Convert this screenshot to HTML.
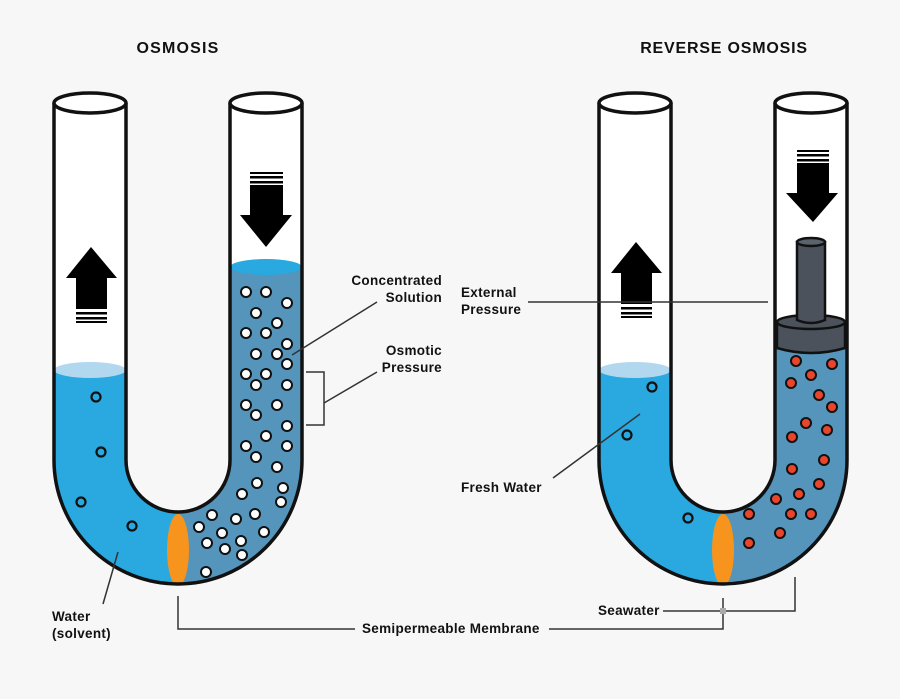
<!DOCTYPE html>
<html><head><meta charset="utf-8"><style>
html,body{margin:0;padding:0;background:#f7f7f7;}
svg{display:block;}
text{font-family:"Liberation Sans",sans-serif;font-weight:bold;fill:#111;}
</style></head><body>
<svg width="900" height="699" viewBox="0 0 900 699" xmlns="http://www.w3.org/2000/svg">
<defs>
<path id="U" d="M54,103 L54,460 A124,124 0 0 0 302,460 L302,103 L230,103 L230,460 A52,52 0 0 1 126,460 L126,103 Z"/>
<clipPath id="cu"><use href="#U"/></clipPath>
</defs>
<rect width="900" height="699" fill="#f7f7f7"/>
<text x="178" y="53" font-size="16" letter-spacing="1.2" text-anchor="middle">OSMOSIS</text>
<text x="724" y="53" font-size="16" letter-spacing="0.8" text-anchor="middle">REVERSE OSMOSIS</text>

<!-- LEFT U -->
<g>
<use href="#U" fill="#fff"/>
<g clip-path="url(#cu)">
<rect x="40" y="370" width="138" height="230" fill="#29a9e0"/>
<rect x="178" y="267" width="140" height="330" fill="#5594bb"/>
<ellipse cx="90" cy="370" rx="36" ry="8" fill="#b2d8f0"/>
<ellipse cx="266" cy="267" rx="36" ry="8" fill="#29a9e0"/>
<ellipse cx="178" cy="550" rx="11" ry="36" fill="#f7941e"/>
</g>
<g fill="none" stroke="#111" stroke-width="3.5">
<path d="M54,103 L54,460 A124,124 0 0 0 302,460 L302,103 M230,103 L230,460 A52,52 0 0 1 126,460 L126,103"/>
<ellipse cx="90" cy="103" rx="36" ry="10" fill="#fff"/>
<ellipse cx="266" cy="103" rx="36" ry="10" fill="#fff"/>
</g>
<g fill="none" stroke="#111" stroke-width="2.2">
<circle cx="96" cy="397" r="4.5"/><circle cx="101" cy="452" r="4.5"/><circle cx="81" cy="502" r="4.5"/><circle cx="132" cy="526" r="4.5"/>
</g>
<g fill="#fff" stroke="#111" stroke-width="2">
<circle cx="246" cy="292" r="5"/><circle cx="266" cy="292" r="5"/><circle cx="287" cy="303" r="5"/><circle cx="256" cy="313" r="5"/><circle cx="277" cy="323" r="5"/><circle cx="246" cy="333" r="5"/><circle cx="266" cy="333" r="5"/><circle cx="287" cy="344" r="5"/><circle cx="256" cy="354" r="5"/><circle cx="277" cy="354" r="5"/><circle cx="287" cy="364" r="5"/><circle cx="246" cy="374" r="5"/><circle cx="266" cy="374" r="5"/><circle cx="256" cy="385" r="5"/><circle cx="287" cy="385" r="5"/><circle cx="246" cy="405" r="5"/><circle cx="277" cy="405" r="5"/><circle cx="256" cy="415" r="5"/><circle cx="287" cy="426" r="5"/><circle cx="266" cy="436" r="5"/><circle cx="246" cy="446" r="5"/><circle cx="287" cy="446" r="5"/><circle cx="256" cy="457" r="5"/><circle cx="277" cy="467" r="5"/><circle cx="257" cy="483" r="5"/><circle cx="242" cy="494" r="5"/><circle cx="283" cy="488" r="5"/><circle cx="281" cy="502" r="5"/><circle cx="212" cy="515" r="5"/><circle cx="236" cy="519" r="5"/><circle cx="255" cy="514" r="5"/><circle cx="199" cy="527" r="5"/><circle cx="222" cy="533" r="5"/><circle cx="264" cy="532" r="5"/><circle cx="207" cy="543" r="5"/><circle cx="241" cy="541" r="5"/><circle cx="225" cy="549" r="5"/><circle cx="242" cy="555" r="5"/><circle cx="206" cy="572" r="5"/>
</g>
<g fill="#000">
<polygon points="91,247 117,278 107,278 107,309 76,309 76,278 66,278"/>
<rect x="76" y="312" width="31" height="2.5"/><rect x="76" y="317" width="31" height="2.5"/><rect x="76" y="321" width="31" height="2"/>
<rect x="250" y="172" width="33" height="2"/><rect x="250" y="176" width="33" height="2.5"/><rect x="250" y="181" width="33" height="2.5"/>
<polygon points="250,185 283,185 283,215 292,215 266,247 240,215 250,215"/>
</g>
</g>

<!-- RIGHT U -->
<g transform="translate(545,0)">
<use href="#U" fill="#fff"/>
<g clip-path="url(#cu)">
<rect x="40" y="370" width="138" height="230" fill="#29a9e0"/>
<rect x="178" y="345" width="140" height="260" fill="#5594bb"/>
<ellipse cx="90" cy="370" rx="36" ry="8" fill="#b2d8f0"/>
<ellipse cx="178" cy="550" rx="11" ry="36" fill="#f7941e"/>
</g>
<g fill="none" stroke="#111" stroke-width="3.5">
<path d="M54,103 L54,460 A124,124 0 0 0 302,460 L302,103 M230,103 L230,460 A52,52 0 0 1 126,460 L126,103"/>
<ellipse cx="90" cy="103" rx="36" ry="10" fill="#fff"/>
<ellipse cx="266" cy="103" rx="36" ry="10" fill="#fff"/>
</g>
<g stroke="#111" stroke-width="2.5" fill="#4b525b">
<path d="M232,322 L300,322 L300,348 Q266,358 232,348 Z"/>
<ellipse cx="266" cy="322" rx="34" ry="7"/>
<path d="M252,242 L252,320 Q266,326 280,320 L280,242 Z"/>
<ellipse cx="266" cy="242" rx="14" ry="4" fill="#5b636c"/>
</g>
<g fill="none" stroke="#111" stroke-width="2.2">
<circle cx="107" cy="387" r="4.5"/><circle cx="82" cy="435" r="4.5"/><circle cx="143" cy="518" r="4.5"/>
</g>
<g fill="#e8452c" stroke="#111" stroke-width="2" transform="translate(-545,0)">
<circle cx="796" cy="361" r="5"/><circle cx="832" cy="364" r="5"/><circle cx="811" cy="375" r="5"/><circle cx="791" cy="383" r="5"/><circle cx="819" cy="395" r="5"/><circle cx="832" cy="407" r="5"/><circle cx="806" cy="423" r="5"/><circle cx="827" cy="430" r="5"/><circle cx="792" cy="437" r="5"/><circle cx="824" cy="460" r="5"/><circle cx="792" cy="469" r="5"/><circle cx="819" cy="484" r="5"/><circle cx="799" cy="494" r="5"/><circle cx="776" cy="499" r="5"/><circle cx="791" cy="514" r="5"/><circle cx="811" cy="514" r="5"/><circle cx="749" cy="514" r="5"/><circle cx="780" cy="533" r="5"/><circle cx="749" cy="543" r="5"/>
</g>
<g fill="#000">
<polygon points="91,242 117,273 107,273 107,304 76,304 76,273 66,273"/>
<rect x="76" y="307" width="31" height="2.5"/><rect x="76" y="312" width="31" height="2.5"/><rect x="76" y="316" width="31" height="2"/>
<rect x="252" y="150" width="32" height="2"/><rect x="252" y="154" width="32" height="2.5"/><rect x="252" y="159" width="32" height="2.5"/>
<polygon points="252,163 284,163 284,193 293,193 268,222 241,193 252,193"/>
</g>
</g>

<g stroke="#333" stroke-width="1.5" fill="none">
<line x1="377" y1="302" x2="292" y2="355"/>
<polyline points="306,372 324,372 324,425 306,425"/>
<line x1="324" y1="403" x2="377" y2="372"/>
<line x1="528" y1="302" x2="768" y2="302"/>
<line x1="553" y1="478" x2="640" y2="414"/>
<line x1="103" y1="604" x2="118" y2="552"/>
<polyline points="178,596 178,629 355,629"/>
<polyline points="549,629 723,629 723,598"/>
<polyline points="663,611 795,611 795,577"/>
</g>
<rect x="720" y="608" width="6" height="6" fill="#aaa"/>
<g font-size="13.5" letter-spacing="0.3">
<text x="442" y="285" text-anchor="end">Concentrated</text>
<text x="442" y="302" text-anchor="end">Solution</text>
<text x="442" y="355" text-anchor="end">Osmotic</text>
<text x="442" y="372" text-anchor="end">Pressure</text>
<text x="461" y="297">External</text>
<text x="461" y="314">Pressure</text>
<text x="461" y="492">Fresh Water</text>
<text x="52" y="621">Water</text>
<text x="52" y="638">(solvent)</text>
<text x="362" y="633">Semipermeable Membrane</text>
<text x="598" y="615">Seawater</text>
</g>
</svg>
</body></html>
